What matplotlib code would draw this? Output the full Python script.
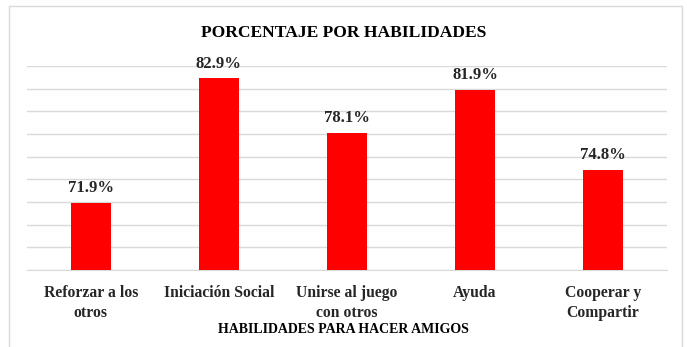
import matplotlib
matplotlib.use("Agg")
import matplotlib.pyplot as plt
from matplotlib.patches import Rectangle

# datos
categorias = ["Reforzar a los\notros", "Iniciación Social", "Unirse al juego\ncon otros",
              "Ayuda", "Cooperar y\nCompartir"]
valores = [71.9, 82.9, 78.1, 81.9, 74.8]
etiquetas = ["71.9%", "82.9%", "78.1%", "81.9%", "74.8%"]

plt.rcParams['font.family'] = ['Liberation Serif', 'DejaVu Serif']

fig = plt.figure(figsize=(6.87, 3.47), dpi=100)
ax = fig.add_axes([0.039, 0.222, 0.932, 0.588])

# marco del gráfico
fig.patches.append(Rectangle((9 / 687, -0.05), (682 - 9) / 687, 1 - 6 / 347 + 0.05,
                             transform=fig.transFigure, fill=False,
                             edgecolor='#d9d9d9', linewidth=1.0))

x = range(len(categorias))
ax.bar(x, valores, width=0.31, color='#ff0000', zorder=3)
for i, v in enumerate(valores):
    ax.text(i, v + 0.6, etiquetas[i], ha='center', va='bottom',
            fontsize=12, fontweight='bold', color='#262626')

ax.set_ylim(66, 84)
ax.set_xlim(-0.5, len(categorias) - 0.5)
ax.set_yticks(range(66, 85, 2))
ax.yaxis.grid(True, color='#d9d9d9', linewidth=1.0, zorder=0)
ax.tick_params(axis='y', left=False, labelleft=False)
ax.tick_params(axis='x', bottom=False, pad=7)
ax.set_xticks(list(x))
ax.set_xticklabels(categorias, fontsize=11.3, fontweight='bold', color='#262626',
                   linespacing=1.4)
for s in ['top', 'right', 'left']:
    ax.spines[s].set_visible(False)
ax.spines['bottom'].set_color('#d9d9d9')

fig.text(0.5, 0.905, "PORCENTAJE POR HABILIDADES", ha='center', va='center',
         fontsize=12.6, fontweight='bold', color='#000000')
fig.text(0.5, 0.049, "HABILIDADES PARA HACER AMIGOS", ha='center', va='center',
         fontsize=10, fontweight='bold', color='#000000')

fig.savefig("out.png", dpi=100)
